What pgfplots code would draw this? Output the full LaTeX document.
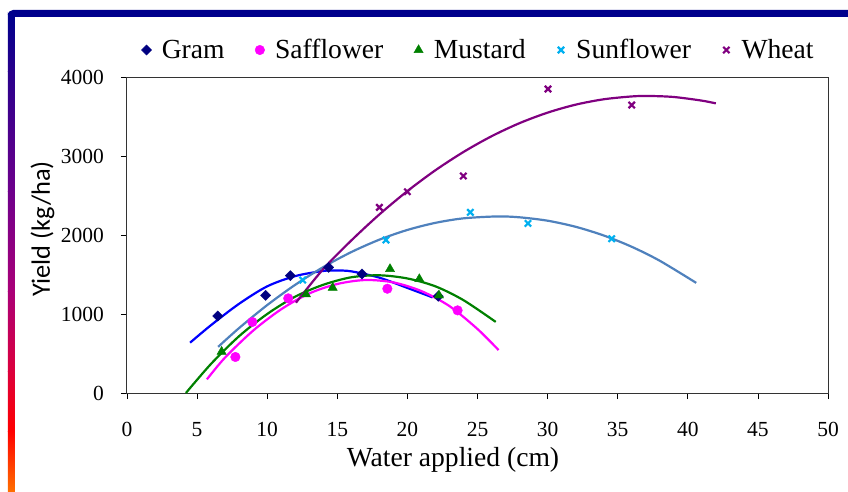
\documentclass[border=0pt]{standalone}
\usepackage{pgfplots}
\pgfplotsset{compat=1.18}
\usepackage{fontspec}
\setmainfont{Liberation Serif}
\newfontfamily\calibri{Carlito}
\definecolor{gramM}{HTML}{000080}
\definecolor{gramL}{HTML}{0000FF}
\definecolor{saff}{HTML}{FF00FF}
\definecolor{must}{HTML}{008000}
\definecolor{sunM}{HTML}{00B0F0}
\definecolor{sunL}{HTML}{4F81BD}
\definecolor{wheat}{HTML}{800080}
\definecolor{barA}{RGB}{255,110,0}
\definecolor{barB}{RGB}{255,0,0}
\definecolor{barC}{RGB}{220,0,60}
\definecolor{barD}{RGB}{170,0,120}
\definecolor{barE}{RGB}{110,0,140}
\definecolor{barF}{RGB}{40,0,140}
\definecolor{barG}{RGB}{0,0,140}
\begin{document}
\begin{tikzpicture}[x=1pt,y=1pt]
\path[use as bounding box] (-127,-98) rectangle (721,393);
\begin{axis}[
  anchor=south west,
  scale only axis, width=701pt, height=316pt,
  xmin=0, xmax=50, ymin=0, ymax=4000,
  xtick={0,5,...,50}, ytick={0,1000,...,4000},
  tick align=outside, tick pos=left,
  major tick length=6pt,
  tick style={black, line width=0.8pt},
  axis line style={black!80, line width=1pt},
  /pgf/number format/assume math mode=true,
  /pgf/number format/1000 sep={},
  tick label style={font=\fontsize{21.5}{24}\selectfont},
  yticklabel style={anchor=east, inner sep=0pt, xshift=-17pt},
  xticklabel style={anchor=north, inner sep=0pt, yshift=-23pt},
  legend columns=5,
  legend style={at={(rel axis cs:0.5,1)}, anchor=center, yshift=27pt,
    draw=none, fill=none, font=\fontsize{27.6}{30}\selectfont,
    nodes={inner xsep=0pt, inner ysep=2pt},
    /tikz/every even column/.append style={column sep=30pt},
    /tikz/every odd column/.append style={column sep=10pt}},
  legend image code/.code={\draw[#1] plot coordinates {(0pt,0pt)}; \path (-5pt,0pt) (5pt,0pt);},
]
% trend lines
\addplot[gramL, line width=2.2pt, smooth, forget plot] coordinates {
 (4.5,637) (6,860) (8,1130) (10,1350) (12,1480) (14,1545) (15,1550) (16,1540) (18,1460) (20,1330) (21.8,1210)};
\addplot[sunL, line width=2.2pt, smooth, forget plot] coordinates {
 (6.5,584) (8,823) (10,1113) (12,1370) (14,1594) (16,1784) (18,1941) (20,2064) (22,2154) (24,2211) (26.4,2235) (28,2224) (30,2181) (32,2104) (34,1994) (36,1851) (38,1674) (40.6,1394)};
\addplot[must, line width=2.2pt, smooth, forget plot] coordinates {
 (4.2,0) (6,370) (8,720) (10,1000) (12,1220) (14,1370) (16,1465) (18,1490) (20,1450) (22,1350) (24,1175) (26.3,900)};
\addplot[saff, line width=2.2pt, smooth, forget plot] coordinates {
 (5.7,173) (7,450) (9,790) (11,1060) (13,1260) (15,1380) (17,1430) (19,1400) (21,1290) (23,1100) (25,810) (26.5,544)};
\addplot[wheat, line width=2.2pt, smooth, forget plot] coordinates {
 (12.05,1143) (14,1570) (16,1931) (18,2260) (20,2556) (22,2820) (24,3051) (26,3250) (28,3416) (30,3549) (32,3650) (34,3718) (36,3754) (37.2,3760) (39,3747) (41,3701) (42,3666)};
% data points
\addplot[only marks, mark=square*, mark size=3.6pt, mark options={rotate=45, fill=gramM, draw=gramM}] coordinates {
 (6.47,975) (9.89,1236) (11.65,1485) (14.38,1591) (16.76,1506) (22.2,1225)};
\addlegendentry{Gram}
\addplot[only marks, mark=*, mark size=4.8pt, mark options={fill=saff, draw=saff}] coordinates {
 (7.73,456) (8.94,899) (11.5,1198) (18.57,1320) (23.58,1046)};
\addlegendentry{Safflower}
\addplot[only marks, mark=triangle*, mark size=5.3pt, mark options={fill=must, draw=must}] coordinates {
 (6.75,523) (12.77,1249) (14.67,1333) (18.76,1570) (20.85,1443) (22.25,1236)};
\addlegendentry{Mustard}
\addplot[only marks, mark=x, mark size=4.5pt, mark options={draw=sunM, line width=2.2pt}] coordinates {
 (12.53,1430) (18.47,1937) (24.49,2287) (28.6,2147) (34.57,1953)};
\addlegendentry{Sunflower}
\addplot[only marks, mark=x, mark size=4.5pt, mark options={draw=wheat, line width=2.2pt}] coordinates {
 (18.0,2350) (20.0,2548) (23.99,2747) (30.03,3848) (36.0,3645)};
\addlegendentry{Wheat}
\end{axis}
% frame
\shade[top color=barB, bottom color=barA] (-119,-98) rectangle (-112,-38);
\shade[top color=barC, bottom color=barB] (-119,-38.5) rectangle (-112,22);
\shade[top color=barD, bottom color=barC] (-119,21.5) rectangle (-112,102);
\shade[top color=barE, bottom color=barD] (-119,101.5) rectangle (-112,202);
\shade[top color=barF, bottom color=barE] (-119,201.5) rectangle (-112,322);
\shade[top color=barG, bottom color=barF] (-119,321.5) rectangle (-112,378);
\fill[barG, rounded corners=5pt] (-119,383) rectangle (733,376);
\fill[barG] (-119,380) rectangle (-112,377);
\node[anchor=base, font=\fontsize{27.6}{30}\selectfont] at (326,-73) {Water applied (cm)};
\node[anchor=base, rotate=90, font=\calibri\fontsize{26.4}{30}\selectfont] at (-77,164) {Yield (kg/ha)};
\end{tikzpicture}
\end{document}
